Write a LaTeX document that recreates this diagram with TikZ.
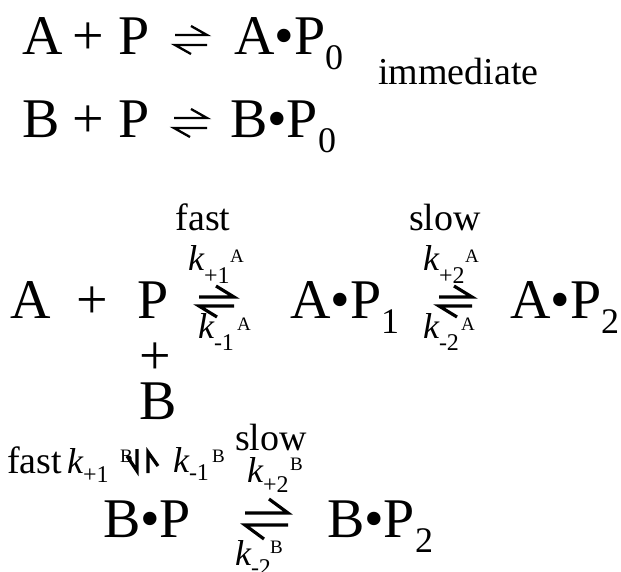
\documentclass[tikz,border=0pt]{standalone}
\usepackage{fontspec}
\setmainfont{Liberation Serif}
\newcommand\sbs[1]{\raisebox{-15pt}{\fontsize{36}{36}\selectfont #1}}
% #1 name, #2 x, #3 y (baseline of k), #4 subscript, #5 superscript, #6 sup dx, #7 sub dy, #8 sup dy
\newcommand\klab[8]{%
  \node[kk] (#1k) at (#2,#3) {k};
  \node[ksub] (#1s) at ([xshift=16pt,yshift=-#7pt]#1k.base west) {#4};
  \node[ksup] (#1u) at ([xshift=#6pt,yshift=#8pt]#1k.base west) {#5};
}
% #1 name, #2 x left, #3 x right, #4 y upper, #5 y lower, #6 barb dx, #7 barb dy, #8 style
\newcommand\rharp[8]{%
  \coordinate (#1ul) at (#2,#4); \coordinate (#1ur) at (#3,#4);
  \coordinate (#1ll) at (#2,#5); \coordinate (#1lr) at (#3,#5);
  \draw[#8] (#1ul) -- (#1ur) -- ++(-#6,-#7);
  \draw[#8] (#1lr) -- (#1ll) -- ++(#6,#7);
}
\begin{document}
\begin{tikzpicture}[x=1pt,y=-1pt,
  big/.style={font=\fontsize{56}{56}\selectfont, inner sep=0pt, outer sep=0pt, anchor=base west},
  word/.style={font=\fontsize{38}{38}\selectfont, inner sep=0pt, outer sep=0pt, anchor=base west},
  kk/.style={font=\fontsize{36}{36}\selectfont\itshape, inner sep=0pt, outer sep=0pt, anchor=base west},
  ksub/.style={font=\fontsize{24}{24}\selectfont, inner sep=0pt, outer sep=0pt, anchor=base west},
  ksup/.style={font=\fontsize{19}{19}\selectfont, inner sep=0pt, outer sep=0pt, anchor=base west},
  harp/.style={line width=3.2pt, line join=miter, line cap=butt},
  thinharp/.style={line width=2.3pt, line join=miter, line cap=butt}]
\useasboundingbox (0,0) rectangle (621,572);
\fill[white] (0,0) rectangle (621,572);

% --- immediate equilibria ---
\node[big] (t1A) at (22,55) {A};
\node[big,anchor=base] (t1plus) at (88,55) {+};
\node[big] (t1P) at (118,55) {P};
\rharp{t1}{175}{207}{35}{45}{16}{9}{thinharp}
\node[big] (t1AP) at (234,55) {A•P\sbs{0}};
\node[word] (imm) at (378,85) {immediate};

\node[big] (t2B) at (22,138) {B};
\node[big,anchor=base] (t2plus) at (88,138) {+};
\node[big] (t2P) at (118,138) {P};
\rharp{t2}{174}{207}{118}{128}{16}{9}{thinharp}
\node[big] (t2BP) at (230,138) {B•P\sbs{0}};

% --- A pathway ---
\node[big] (mA) at (10,318) {A};
\node[big,anchor=base] (mplus) at (92,318) {+};
\node[big] (mP) at (137,318) {P};
\rharp{m1}{199}{234}{297}{306}{18}{11}{harp}
\node[word,anchor=base] (fastA) at (203,230) {fast};
\klab{kpa}{188}{270}{+1}{A}{42}{13}{8}
\klab{kma}{198}{338}{-1}{A}{39}{12}{8}
\node[big] (mAP1) at (290,318) {A•P\sbs{1}};
\rharp{m2}{439}{472}{297}{306}{18}{11}{harp}
\node[word,anchor=base] (slowA) at (445,230) {slow};
\klab{kpb}{423}{270}{+2}{A}{42}{13}{8}
\klab{kmb}{423}{338}{-2}{A}{38}{12}{8}
\node[big] (mAP2) at (510,318) {A•P\sbs{2}};

% --- B branch ---
\node[big,anchor=base] (vplus) at (155,374) {+};
\node[big] (vB) at (139,419) {B};
\node[word] (fastB) at (7,473) {fast};
\klab{kpc}{67}{473}{+1}{B}{53}{9}{11}
\coordinate (vdT) at (137,449); \coordinate (vdB) at (137,471);
\draw[harp] (vdT) -- (vdB) -- ++(-10,-15);
\coordinate (vuB) at (148,473); \coordinate (vuT) at (148,452);
\draw[harp] (vuB) -- (vuT) -- ++(10,14);
\klab{kmc}{173}{472}{-1}{B}{39}{8}{10}
\node[word,anchor=base] (slowB) at (271,450) {slow};
\klab{kpd}{247}{482}{+2}{B}{43}{10}{12}
\node[big] (bBP) at (103,537) {B•P};
\rharp{b1}{245}{288}{513}{525}{19}{14}{harp}
\node[big] (bBP2) at (327,537) {B•P\sbs{2}};
\klab{kmd}{235}{565}{-2}{B}{35}{10}{12}
\end{tikzpicture}
\end{document}
